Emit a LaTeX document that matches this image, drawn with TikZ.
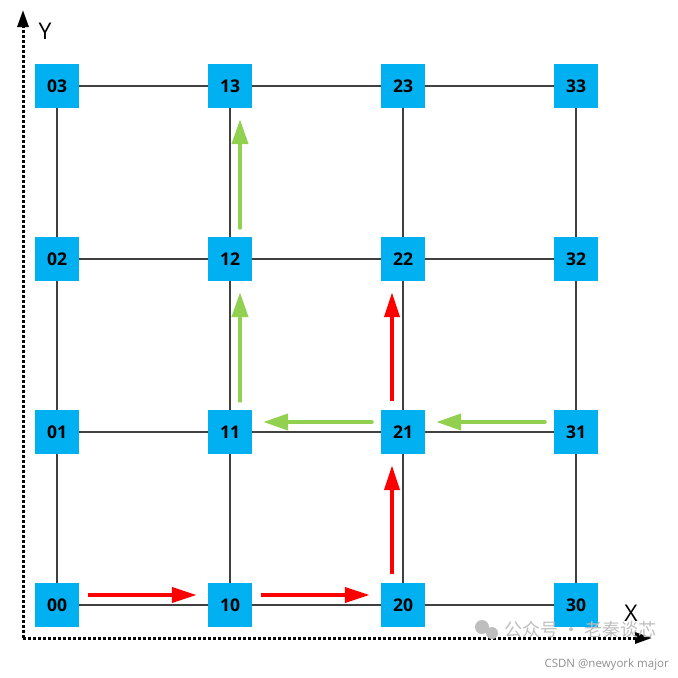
\documentclass[tikz,border=0pt]{standalone}
\usepackage{fontspec}
\setmainfont{Open Sans}
\newfontfamily\cjkfont{Noto Sans CJK SC}
\usetikzlibrary{arrows.meta}

\definecolor{cellblue}{RGB}{0,176,240}
\definecolor{pathred}{RGB}{255,0,0}
\definecolor{pathgreen}{RGB}{146,208,80}
\definecolor{gridgray}{RGB}{64,64,64}
\definecolor{markgray}{RGB}{190,190,190}

\tikzset{
  cell/.style={fill=cellblue, minimum size=44pt, inner sep=0pt,
    font=\fontsize{17.5}{20}\selectfont\bfseries},
  gridline/.style={gridgray, line width=1.3pt},
  axis/.style={black, line width=3pt, dash pattern=on 3pt off 2pt,
    -{Triangle[length=17pt, width=11pt]}},
  redpath/.style={pathred, line width=4pt, shorten <=9pt, shorten >=11pt,
    -{Triangle[length=25pt, width=15pt]}},
  greenpath/.style={pathgreen, line width=4pt, line cap=round,
    shorten <=9pt, shorten >=11pt, -{Triangle[length=25pt, width=16pt]}}
}

\begin{document}
\begin{tikzpicture}[x=1pt, y=-1pt]
  \useasboundingbox (0,0) rectangle (678,678);

  % Axes
  \coordinate (O) at (23,638);
  \coordinate (Xend) at (652,638);
  \coordinate (Yend) at (23,10);
  \draw[axis] (O) -- (Xend);
  \draw[axis] (O) -- (Yend);
  \node[font=\fontsize{23}{26}\selectfont] (ylab) at (45,31) {Y};
  \node[font=\fontsize{23}{26}\selectfont] (xlab) at (631,613) {X};

  % Grid cells
  \foreach \i in {0,...,3}
    \foreach \j in {0,...,3}
      \node[cell] (n\i\j) at (57+173*\i, 605-173*\j) {\i\j};

  % Grid lines
  \foreach \j in {0,...,3} {
    \draw[gridline] (n0\j) -- (n1\j);
    \draw[gridline] (n1\j) -- (n2\j);
    \draw[gridline] (n2\j) -- (n3\j);
  }
  \foreach \i in {0,...,3} {
    \draw[gridline] (n\i0) -- (n\i1);
    \draw[gridline] (n\i1) -- (n\i2);
    \draw[gridline] (n\i2) -- (n\i3);
  }

  % Red route
  \draw[redpath] ([yshift=10pt]n00.east) -- ([yshift=10pt]n10.west);
  \draw[redpath] ([yshift=10pt]n10.east) -- ([yshift=10pt]n20.west);
  \draw[redpath] ([xshift=-11pt]n20.north) -- ([xshift=-11pt]n21.south);
  \draw[redpath] ([xshift=-11pt]n21.north) -- ([xshift=-11pt]n22.south);

  % Green route
  \draw[greenpath] ([yshift=10pt]n31.west) -- ([yshift=10pt]n21.east);
  \draw[greenpath] ([yshift=10pt]n21.west) -- ([yshift=10pt]n11.east);
  \draw[greenpath] ([xshift=10pt]n11.north) -- ([xshift=10pt]n12.south);
  \draw[greenpath] ([xshift=10pt]n12.north) -- ([xshift=10pt]n13.south);

  % Watermark
  \fill[markgray] (482,627) circle (7pt);
  \fill[markgray] (492,633) circle (6pt);
  \node[markgray, anchor=west, font=\cjkfont\fontsize{18}{21}\selectfont]
    (wm) at (501,630) {公众号 · 老秦谈芯};
  \node[markgray!75!black, anchor=west, font=\fontsize{11.5}{13}\selectfont]
    (csdn) at (541,665) {CSDN @newyork major};
\end{tikzpicture}
\end{document}
